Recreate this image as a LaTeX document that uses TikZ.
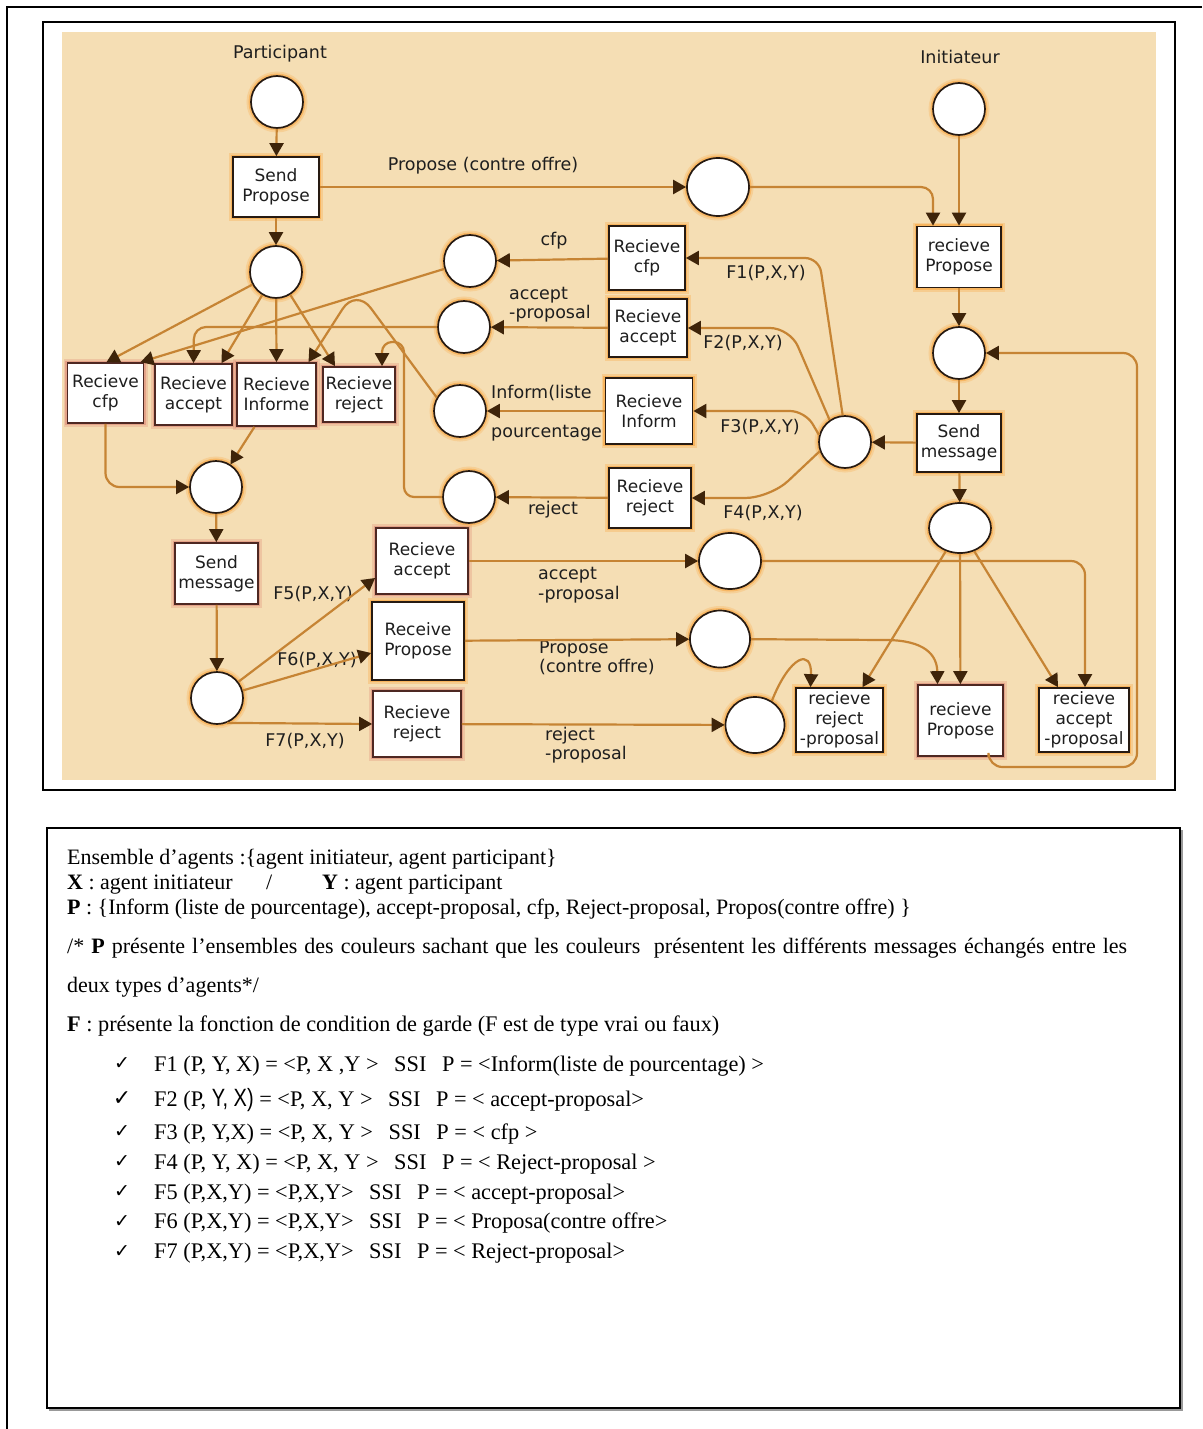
\documentclass[tikz,border=0pt]{standalone}
\usepackage{fontspec}
\usepackage{graphicx}
\usetikzlibrary{arrows.meta,shapes.geometric}
\setmainfont{Liberation Serif}
\newfontfamily\diafont{DejaVu Sans}
\newfontfamily\checkfont{DejaVu Sans}
\newfontfamily\narrowfont{Liberation Sans}

\definecolor{paper}{RGB}{245,222,180}
\definecolor{arccol}{RGB}{198,132,52}
\definecolor{tipcol}{RGB}{62,36,10}
\definecolor{gloworange}{RGB}{250,165,60}
\definecolor{glowpink}{RGB}{222,140,120}
\definecolor{edgedark}{RGB}{38,26,18}
\definecolor{edgepink}{RGB}{78,40,34}
\definecolor{ink}{RGB}{30,30,30}

% wide gap used around "SSI"
\newcommand{\gapssi}{\hspace{0.7em}}

\tikzset{
  place/.style={ellipse, draw=edgedark, line width=1.7pt, fill=white,
    inner sep=0pt, minimum width=52pt, minimum height=52pt,
    preaction={draw=gloworange, line width=9pt, opacity=0.25},
    preaction={draw=gloworange, line width=5pt, opacity=0.55}},
  boxbase/.style={rectangle, line width=1.7pt, fill=white, inner sep=1pt,
    align=center, text=ink, font=\diafont\fontsize{17}{20}\selectfont},
  trans/.style={boxbase, draw=edgedark,
    preaction={draw=gloworange, line width=8pt, opacity=0.3},
    preaction={draw=gloworange, line width=4.5pt, opacity=0.6}},
  transpk/.style={boxbase, draw=edgepink,
    preaction={draw=glowpink, line width=8pt, opacity=0.3},
    preaction={draw=glowpink, line width=4.5pt, opacity=0.6}},
  lbl/.style={inner sep=0pt, text=ink, font=\diafont\fontsize{17.5}{19.5}\selectfont},
  arcl/.style={draw=arccol, line width=2.2pt,
    -{Triangle[length=13pt,width=14pt,color=tipcol]}},
  txt/.style={anchor=base west, inner sep=0pt, font=\fontsize{22}{25}\selectfont},
  ftxt/.style={txt, font=\fontsize{22.3}{25}\selectfont},
  chk/.style={inner sep=0pt, font=\checkfont\fontsize{19}{19}\selectfont},
}

\begin{document}
\begin{tikzpicture}[x=1pt,y=-1pt]
\useasboundingbox (0,0) rectangle (1202,1429);
\fill[white] (0,0) rectangle (1202,1429);

% page frames
\draw[line width=1.2pt] (1202,7) -- (7,7) -- (7,1429);
\draw[line width=2.2pt] (43,22) rectangle (1175,790);
\fill[paper] (62,32) rectangle (1156,780);

% ---------------- participant side ----------------
\node[lbl] (tPart) at (280,54) {Participant};
\node[place] (p1) at (277,102) {};
\node[trans, minimum width=86pt, minimum height=60pt] (sendProp) at (276,187) {Send\\Propose};
\node[place] (p2) at (276,272) {};

\node[transpk, minimum width=76pt, minimum height=60pt] (rCfpP) at (105.5,393) {Recieve\\cfp};
\node[transpk, minimum width=77pt, minimum height=61pt] (rAccP) at (193.5,394.5) {Recieve\\accept};
\node[transpk, minimum width=79pt, minimum height=63pt] (rInfP) at (276.5,394.5) {Recieve\\Informe};
\node[transpk, minimum width=72pt, minimum height=55pt] (rRejP) at (359,394.5) {Recieve\\reject};

\node[place] (pJoin) at (216,487) {};
\node[transpk, minimum width=83pt, minimum height=61pt] (sendMsgP) at (216.5,573.5) {Send\\message};
\node[place] (pSm) at (217,698) {};

\node[transpk, minimum width=92pt, minimum height=66pt] (rAccL) at (422,561) {Recieve\\accept};
\node[trans, minimum width=92pt, minimum height=78pt] (rPropL) at (418,641) {Receive\\Propose};
\node[transpk, minimum width=88pt, minimum height=66pt] (rRejL) at (417,724) {Recieve\\reject};

\node[lbl] (lF5) at (313,594) {F5(P,X,Y)};
\node[lbl] (lF6) at (317,660) {F6(P,X,Y)};
\node[lbl] (lF7) at (305,741) {F7(P,X,Y)};

% ---------------- message places (middle) ----------------
\node[place, minimum width=62pt, minimum height=58pt] (pProp) at (718,187) {};
\node[lbl] (lProp) at (483,166) {Propose (contre offre)};

\node[trans, minimum width=76pt, minimum height=64pt] (rCfpM) at (647,258) {Recieve\\cfp};
\node[trans, minimum width=78pt, minimum height=58pt] (rAccM) at (648,328) {Recieve\\accept};
\node[trans, minimum width=87pt, minimum height=66pt] (rInfM) at (649,411) {Recieve\\Inform};
\node[trans, minimum width=82pt, minimum height=60pt] (rRejM) at (650,498) {Recieve\\reject};

\node[place] (pCfp) at (470,261) {};
\node[place] (pAcc) at (464,327) {};
\node[place] (pInf) at (460,411) {};
\node[place] (pRej) at (469,497) {};

\node[lbl] (lCfp) at (554,241) {cfp};
\node[lbl, anchor=west, align=left] (lAcc) at (509,304.5) {accept\\-proposal};
\node[lbl, anchor=west] (lInf1) at (491,393) {Inform(liste};
\node[lbl, anchor=west] (lInf2) at (491,433) {pourcentage};
\node[lbl] (lRej) at (553,510) {reject};
\node[lbl] (lF1) at (766,273) {F1(P,X,Y)};
\node[lbl] (lF2) at (743,343) {F2(P,X,Y)};
\node[lbl] (lF3) at (760,427) {F3(P,X,Y)};
\node[lbl] (lF4) at (763,513) {F4(P,X,Y)};

\node[place, minimum width=62pt, minimum height=56pt] (pAcc2) at (730,561) {};
\node[place, minimum width=60pt, minimum height=57pt] (pProp2) at (720,639) {};
\node[place, minimum width=59pt, minimum height=56pt] (pRej2) at (755,725) {};
\node[lbl, anchor=west, align=left] (lAcc2) at (538,585) {accept\\-proposal};
\node[lbl, anchor=west, align=left] (lProp2) at (539,658) {Propose\\(contre offre)};
\node[lbl, anchor=west, align=left] (lRej2) at (545,745) {reject\\-proposal};

% ---------------- initiator side ----------------
\node[lbl] (tInit) at (960,57) {Initiateur};
\node[place] (pI1) at (959,109) {};
\node[trans, minimum width=84pt, minimum height=61pt] (rPropI) at (959,257) {recieve\\Propose};
\node[place] (pI2) at (959,353) {};
\node[trans, minimum width=84pt, minimum height=58pt] (sendMsgI) at (959,443) {Send\\message};
\node[place] (hub) at (845,442) {};
\node[place, minimum width=62pt, minimum height=50pt] (pI3) at (960,528) {};

\node[trans, minimum width=87pt, minimum height=64pt] (rRejI) at (839.5,720) {recieve\\reject\\-proposal};
\node[transpk, minimum width=85pt, minimum height=71pt] (rPropI2) at (960.5,720.5) {recieve\\Propose};
\node[trans, minimum width=90pt, minimum height=64pt] (rAccI) at (1084,720) {recieve\\accept\\-proposal};

% ---------------- arcs ----------------
\draw[arcl] (p1) -- (sendProp);
\draw[arcl] (sendProp) -- (p2);
\draw[arcl] (sendProp) -- (pProp);
\draw[arcl, rounded corners=12pt] (pProp) -- (933,187) -- ([xshift=-26pt]rPropI.north);
\draw[arcl] (pI1) -- (rPropI);
\draw[arcl] (rPropI) -- (pI2);
\draw[arcl] (pI2) -- (sendMsgI);
\draw[arcl] (sendMsgI) -- (hub);
\draw[arcl] (sendMsgI) -- (pI3);

\draw[arcl, rounded corners=14pt] (hub.95) -- (819,258) -- (rCfpM.east);
\draw[arcl, rounded corners=20pt] (hub.125) -- (790,328) -- (rAccM.east);
\draw[arcl, rounded corners=15pt] (hub.165) -- (805,411) -- (rInfM.east);
\draw[arcl, rounded corners=25pt] (hub.200) -- (770,498) -- (rRejM.east);

\draw[arcl] (rCfpM) -- (pCfp);
\draw[arcl] (rAccM) -- (pAcc);
\draw[arcl] (rInfM) -- (pInf);
\draw[arcl] (rRejM) -- (pRej);

\draw[arcl] (p2) -- ([xshift=1pt]rCfpP.north);
\draw[arcl] (pCfp) -- ([xshift=35pt]rCfpP.north);
\draw[arcl] (p2) -- ([xshift=28pt]rAccP.north);
\draw[arcl, rounded corners=12pt] (pAcc) -- (194,327) -- (rAccP.north);
\draw[arcl] (p2) -- (rInfP.north);
\draw[arcl, rounded corners=25pt] (pInf.150) -- (356,288) -- ([xshift=32pt]rInfP.north);
\draw[arcl] (p2) -- ([xshift=-24pt]rRejP.north);
\draw[arcl, rounded corners=10pt] (pRej) -- (404,497) -- (404,342) -- (382,342) -- ([xshift=23pt]rRejP.north);

\draw[arcl] ([xshift=-22pt]rInfP.south) -- (pJoin);
\draw[arcl, rounded corners=14pt] (rCfpP.south) -- (105.5,487) -- (pJoin);
\draw[arcl] (pJoin) -- (sendMsgP);
\draw[arcl] (sendMsgP) -- (pSm);
\draw[arcl] (pSm) -- ([yshift=-17pt]rAccL.west);
\draw[arcl] (pSm) -- ([yshift=-12pt]rPropL.west);
\draw[arcl] (pSm.-68) -- (rRejL.west);

\draw[arcl] (rAccL) -- (pAcc2);
\draw[arcl] (rPropL) -- (pProp2);
\draw[arcl] (rRejL) -- (pRej2);

\draw[arcl, rounded corners=14pt] (pAcc2) -- (1085,561) -- ([xshift=1pt]rAccI.north);
\draw[arcl] (pProp2) -- (885,640) .. controls (925,640) and (937,655) .. ([xshift=-23pt]rPropI2.north);
\draw[arcl] (pRej2.55) .. controls (790,655) and (812,648) .. ([xshift=-29pt]rRejI.north);
\draw[arcl] (pI3) -- ([xshift=23pt]rRejI.north);
\draw[arcl] (pI3) -- (rPropI2);
\draw[arcl] (pI3) -- ([xshift=-26pt]rAccI.north);
\draw[arcl, rounded corners=14pt] ([xshift=28pt]rPropI2.south) -- (988.5,767) -- (1137,767) -- (1137,353) -- (pI2);

% ---------------- legend ----------------
\draw[line width=1.5pt, black!40] (49,1410) -- (1182,1410) -- (1182,830);
\draw[line width=1.6pt] (47,828) rectangle (1180,1408);

\node[txt] (t1) at (67,864) {Ensemble d’agents :\{agent initiateur, agent participant\}};
\node[txt] (t2a) at (67,889) {\textbf{X} : agent initiateur};
\node[txt] (t2b) at (266,889) {/};
\node[txt] (t2c) at (322,889) {\textbf{Y} : agent participant};
\node[txt] (t3) at (67,914) {\textbf{P} : \{Inform (liste de pourcentage), accept-proposal, cfp, Reject-proposal, Propos(contre offre) \}};
% justified line: spaces stretch to the full measure
\node[txt] (t4) at (67,953) {\hbox to 1060pt{/* \textbf{P} présente l’ensembles des couleurs sachant que les couleurs\hspace{0.3em} présentent les différents messages échangés entre les}};
\node[txt] (t5) at (67,992) {deux types d’agents*/};
\node[ftxt] (t6) at (67,1031) {\textbf{F} : présente la fonction de condition de garde (F est de type vrai ou faux)};

\node[chk] (c1) at (122,1064) {✓};
\node[chk, font=\checkfont\fontsize{22}{22}\selectfont] (c2) at (122,1099) {✓};
\node[chk] (c3) at (122,1132) {✓};
\node[chk] (c4) at (122,1162) {✓};
\node[chk] (c5) at (122,1192) {✓};
\node[chk] (c6) at (122,1221) {✓};
\node[chk] (c7) at (122,1251) {✓};

\node[ftxt] (f1) at (154,1071) {F1 (P, Y, X) = <P, X ,Y >\gapssi SSI\gapssi P = <Inform(liste de pourcentage) >};
\node[ftxt] (f2) at (154,1106) {F2 (P, {\narrowfont\fontsize{25}{25}\selectfont\scalebox{0.8}[1]{Y, X)}} = <P, X, Y >\gapssi SSI\gapssi P = < accept-proposal>};
\node[ftxt] (f3) at (154,1139) {F3 (P, Y,X) = <P, X, Y >\gapssi SSI\gapssi P = < cfp >};
\node[ftxt] (f4) at (154,1169) {F4 (P, Y, X) = <P, X, Y >\gapssi SSI\gapssi P = < Reject-proposal >};
\node[ftxt] (f5) at (154,1199) {F5 (P,X,Y) = <P,X,Y>\gapssi SSI\gapssi P = < accept-proposal>};
\node[ftxt] (f6) at (154,1228) {F6 (P,X,Y) = <P,X,Y>\gapssi SSI\gapssi P = < Proposa(contre offre>};
\node[ftxt] (f7) at (154,1258) {F7 (P,X,Y) = <P,X,Y>\gapssi SSI\gapssi P = < Reject-proposal>};
\end{tikzpicture}
\end{document}
